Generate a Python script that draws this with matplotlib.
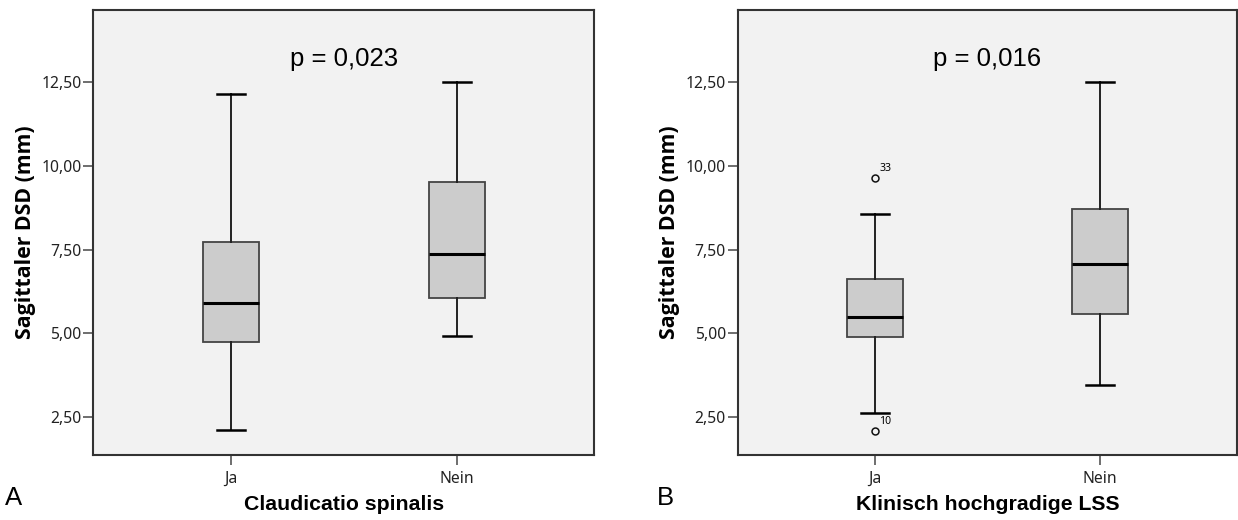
import matplotlib.pyplot as plt

categories = ["Ja", "Nein"]
panel_letters = ["A", "B"]
x_titles = ["Claudicatio spinalis", "Klinisch hochgradige LSS"]
p_texts = ["p = 0,023", "p = 0,016"]
y_title = "Sagittaler DSD (mm)"

# lower whisker, Q1, median, Q3, upper whisker
claud_ja = [2.11, 4.74, 5.89, 7.73, 12.16]
claud_nein = [4.92, 6.05, 7.37, 9.52, 12.52]
lss_ja = [2.62, 4.88, 5.49, 6.61, 8.56]
lss_nein = [3.46, 5.57, 7.06, 8.71, 12.52]

# outliers of LSS "Ja" with their case numbers
lss_ja_outliers = [2.08, 9.63]
lss_ja_outlier_ids = ["10", "33"]

yticks = [2.5, 5.0, 7.5, 10.0, 12.5]


def make_stats(summary, fliers=()):
    lo, q1, med, q3, hi = summary
    return {"whislo": lo, "q1": q1, "med": med, "q3": q3, "whishi": hi,
            "fliers": list(fliers)}


def draw_panel(ax, stats, xtitle, ptext, outlier_vals=(), outlier_ids=()):
    ax.set_facecolor("#f2f2f2")
    ax.bxp(stats, positions=[1, 2], widths=0.25, capwidths=0.125,
           patch_artist=True, showfliers=True,
           boxprops=dict(facecolor="#cccccc", edgecolor="#444444", linewidth=1.3),
           medianprops=dict(color="black", linewidth=2.2),
           whiskerprops=dict(color="#222222", linewidth=1.4),
           capprops=dict(color="black", linewidth=1.8),
           flierprops=dict(marker="o", markersize=5, markerfacecolor="none",
                           markeredgecolor="#111111", markeredgewidth=1.1))
    for val, lab in zip(outlier_vals, outlier_ids):
        ax.annotate(lab, xy=(1, val), xytext=(3, 5), textcoords="offset points",
                    fontsize=7.5, family="Noto Sans", va="baseline", ha="left")

    ax.set_xlim(0.39, 2.61)
    ax.set_ylim(1.35, 14.66)
    ax.set_yticks(yticks)
    ax.set_yticklabels([f"{v:.2f}".replace(".", ",") for v in yticks])
    ax.set_xticks([1, 2])
    ax.set_xticklabels(categories)
    ax.tick_params(length=7, width=1.2, color="#555555", labelsize=11.3,
                   labelcolor="#222222", pad=1.5)
    ax.tick_params(axis="x", pad=4)
    for lbl in ax.get_xticklabels() + ax.get_yticklabels():
        lbl.set_family("Noto Sans")
    for sp in ax.spines.values():
        sp.set_color("#333333")
        sp.set_linewidth(1.5)

    ax.set_xlabel(xtitle, fontsize=15.3, fontweight="bold",
                  family="Liberation Sans", labelpad=6)
    ax.set_ylabel(y_title, fontsize=15.3, fontweight="bold",
                  family="Open Sans", labelpad=4)
    ax.text(0.5, 0.874, ptext, transform=ax.transAxes, ha="center",
            va="baseline", fontsize=18.5, family="Liberation Sans")
    return ax


fig = plt.figure(figsize=(12.38, 5.2), dpi=100)
ax1 = fig.add_axes([0.0754, 0.1245, 0.4048, 0.8563])
ax2 = fig.add_axes([0.5959, 0.1245, 0.4033, 0.8563])

draw_panel(ax1, [make_stats(claud_ja), make_stats(claud_nein)],
           x_titles[0], p_texts[0])
draw_panel(ax2, [make_stats(lss_ja, lss_ja_outliers), make_stats(lss_nein)],
           x_titles[1], p_texts[1], lss_ja_outliers, lss_ja_outlier_ids)

fig.text(5 / 1238, 1 - 505 / 520, panel_letters[0], fontsize=18.5,
         family="Liberation Sans", va="baseline")
fig.text(657 / 1238, 1 - 505 / 520, panel_letters[1], fontsize=18.5,
         family="Liberation Sans", va="baseline")

fig.savefig("out.png", dpi=100, facecolor="white")
